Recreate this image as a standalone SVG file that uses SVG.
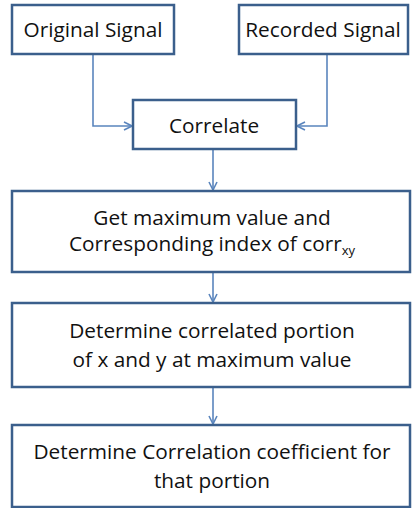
<svg xmlns="http://www.w3.org/2000/svg" width="412" height="508" viewBox="0 0 412 508">
<style>
.box{fill:#fff;stroke:#3b5f8c;stroke-width:2.5}
.t{font-family:"Open Sans","Liberation Sans",sans-serif;font-size:20.8px;fill:#111;text-anchor:middle}
.c{fill:none;stroke:#5a85bd;stroke-width:1.6}
</style>
<defs>
<marker id="a" viewBox="0 0 10 10" refX="9" refY="5" markerWidth="10" markerHeight="10" markerUnits="userSpaceOnUse" orient="auto">
<path d="M1,1 L9,5 L1,9" fill="none" stroke="#5a85bd" stroke-width="1.6"/>
</marker>
</defs>
<g id="connectors">
<path class="c" d="M93,54 V126 H132" marker-end="url(#a)"/>
<path class="c" d="M327,54 V126 H297" marker-end="url(#a)"/>
<path class="c" d="M213,149 V190" marker-end="url(#a)"/>
<path class="c" d="M213,272 V302" marker-end="url(#a)"/>
<path class="c" d="M213,387 V424" marker-end="url(#a)"/>
</g>
<g id="original">
<rect class="box" x="12" y="5" width="162" height="49"/>
<text class="t" x="93" y="37">Original Signal</text>
</g>
<g id="recorded">
<rect class="box" x="239" y="5" width="169" height="49"/>
<text class="t" x="323" y="37">Recorded Signal</text>
</g>
<g id="correlate">
<rect class="box" x="133" y="100" width="163" height="49"/>
<text class="t" x="214" y="133">Correlate</text>
</g>
<g id="getmax">
<rect class="box" x="12" y="191" width="398" height="81"/>
<text class="t" x="212" y="225">Get maximum value and</text>
<text class="t" x="212" y="251">Corresponding index of corr<tspan font-size="13" dy="4">xy</tspan></text>
</g>
<g id="determine">
<rect class="box" x="12" y="303" width="398" height="84"/>
<text class="t" x="212" y="338">Determine correlated portion</text>
<text class="t" x="212" y="367">of x and y at maximum value</text>
</g>
<g id="coeff">
<rect class="box" x="12" y="425" width="398" height="82"/>
<text class="t" x="212" y="459">Determine Correlation coefficient for</text>
<text class="t" x="212" y="488">that portion</text>
</g>
</svg>
